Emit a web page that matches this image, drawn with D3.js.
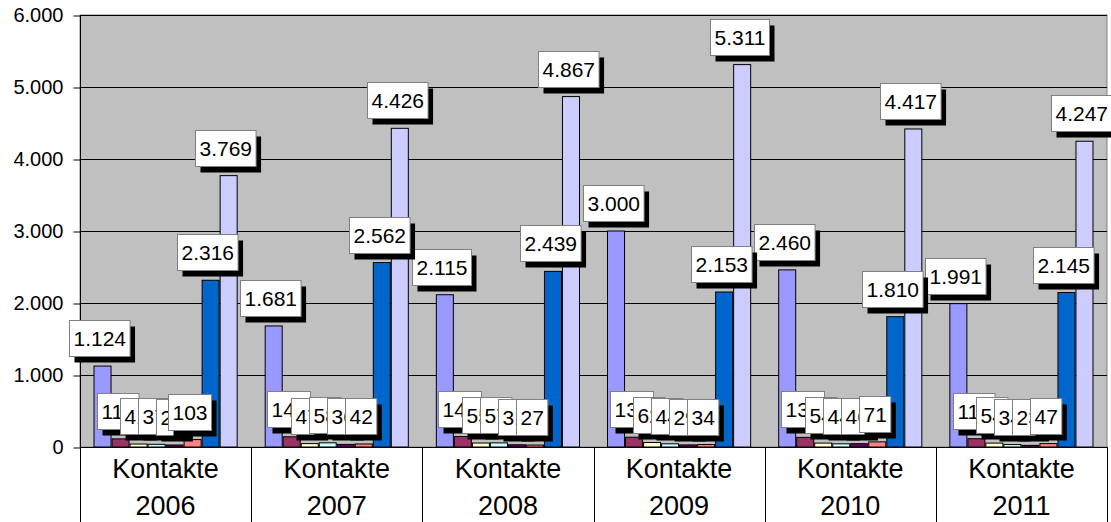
<!DOCTYPE html>
<html>
<head>
<meta charset="utf-8">
<script src="https://cdn.jsdelivr.net/npm/d3@7"></script>
<style>
  html, body { margin: 0; padding: 0; background: #fff; }
  svg, svg text { font-family: "Liberation Sans", Arial, sans-serif; }
  svg { display: block; }
</style>
</head>
<body>
<svg id="chart" width="1111" height="522"></svg>
<script>
// Yearly contact counts, one series per contact type
const years = ["2006", "2007", "2008", "2009", "2010", "2011"];
const categoryLabels = years.map(y => ["Kontakte", y]);

const seriesA = [1124, 1681, 2115, 3000, 2460, 1991];
const seriesB = [113, 142, 145, 136, 134, 115];
const seriesC = [41, 47, 55, 62, 54, 54];
const seriesD = [37, 58, 57, 44, 44, 34];
const seriesE = [28, 36, 31, 29, 46, 23];
const seriesF = [103, 42, 27, 34, 71, 47];
const seriesG = [2316, 2562, 2439, 2153, 1810, 2145];
const seriesH = [3769, 4426, 4867, 5311, 4417, 4247];

const yTicks = [0, 1000, 2000, 3000, 4000, 5000, 6000];

const seriesList = [seriesA, seriesB, seriesC, seriesD, seriesE, seriesF, seriesG, seriesH];
const colors = ["#9999FF", "#993366", "#FFFFCC", "#CCFFFF", "#660066", "#FF8080", "#0066CC", "#CCCCFF"];

const fmt = v => d3.format(",")(v).replace(/,/g, ".");
const FONT = "'Liberation Sans', Arial, sans-serif";

const svg = d3.select("#chart");
const plot = { left: 80, right: 1107, top: 15, bottom: 447 };

const x0 = d3.scaleBand().domain(years).range([plot.left, plot.right]).paddingInner(0).paddingOuter(0);
const x1 = d3.scaleBand().domain(d3.range(seriesList.length))
  .range([0, x0.bandwidth()]).paddingInner(0).paddingOuter(0.75);
const y = d3.scaleLinear().domain([0, 6000]).range([plot.bottom, plot.top]);

// plot background
svg.append("rect")
  .attr("x", plot.left).attr("y", plot.top)
  .attr("width", plot.right - plot.left).attr("height", plot.bottom - plot.top)
  .attr("fill", "#C0C0C0").attr("stroke", "#808080").attr("stroke-width", 1);

// gridlines
svg.append("g").selectAll("line").data(yTicks.filter(d => d > 0)).join("line")
  .attr("x1", plot.left).attr("x2", plot.right)
  .attr("y1", d => Math.round(y(d)) + 0.5).attr("y2", d => Math.round(y(d)) + 0.5)
  .attr("stroke", "#000").attr("stroke-width", 1);

// value axis
const yAxis = svg.append("g")
  .attr("transform", `translate(${plot.left + 0.5},0.5)`)
  .call(d3.axisLeft(y).tickValues(yTicks).tickFormat(fmt).tickSize(7).tickPadding(10));
yAxis.attr("font-family", FONT);
yAxis.select(".domain").remove();
yAxis.selectAll("line").attr("stroke", "#000");
yAxis.selectAll("text").attr("font-size", 20).attr("fill", "#000")
  .attr("font-family", FONT);

// bars
const groups = svg.append("g").selectAll("g").data(years).join("g")
  .attr("transform", d => `translate(${x0(d)},0)`);

groups.each(function (yr, gi) {
  const g = d3.select(this);
  seriesList.forEach((s, si) => {
    const v = s[gi];
    g.append("rect")
      .attr("x", x1(si) + 0.5)
      .attr("y", y(v))
      .attr("width", x1.bandwidth() - 1)
      .attr("height", y(0) - y(v))
      .attr("fill", colors[si])
      .attr("stroke", "#000").attr("stroke-width", 1);
  });
});

// category axis line and dividers
svg.append("line")
  .attr("x1", plot.left).attr("x2", plot.right)
  .attr("y1", plot.bottom + 0.5).attr("y2", plot.bottom + 0.5)
  .attr("stroke", "#000");
svg.append("line")
  .attr("x1", plot.left + 0.5).attr("x2", plot.left + 0.5)
  .attr("y1", plot.top).attr("y2", 522)
  .attr("stroke", "#000");
svg.append("g").selectAll("line").data(years).join("line")
  .attr("x1", d => Math.round(x0(d) + x0.bandwidth()) + 0.5)
  .attr("x2", d => Math.round(x0(d) + x0.bandwidth()) + 0.5)
  .attr("y1", plot.bottom).attr("y2", 522)
  .attr("stroke", "#000");

// category labels
const cat = svg.append("g").selectAll("text").data(years).join("text")
  .attr("x", d => x0(d) + x0.bandwidth() / 2)
  .attr("text-anchor", "middle")
  .attr("font-family", FONT)
  .attr("font-size", 27)
  .attr("fill", "#000");
cat.append("tspan").attr("x", d => x0(d) + x0.bandwidth() / 2).attr("y", 478).text((d, i) => categoryLabels[i][0]);
cat.append("tspan").attr("x", d => x0(d) + x0.bandwidth() / 2).attr("y", 515).text((d, i) => categoryLabels[i][1]);

// data labels: white boxes with a drop shadow
const labels = svg.append("g");
seriesList.forEach((s, si) => {
  years.forEach((yr, gi) => {
    const v = s[gi];
    const cx = x0(yr) + x1(si) + x1.bandwidth() / 2;
    const g = labels.append("g");
    const t = g.append("text")
      .attr("font-family", FONT)
      .attr("font-size", 21)
      .attr("text-anchor", "middle")
      .attr("fill", "#000")
      .text(fmt(v));
    const w = t.node().getComputedTextLength() + 8;
    const h = 36;
    const bottom = y(v) - 10;
    const bx = Math.round(cx - w / 2 - 3) + 0.5;
    const by = Math.round(bottom - h) + 0.5;
    g.insert("rect", "text")
      .attr("x", bx + 5).attr("y", by + 6)
      .attr("width", w).attr("height", h)
      .attr("fill", "#000");
    g.insert("rect", "text")
      .attr("x", bx).attr("y", by)
      .attr("width", w).attr("height", h)
      .attr("fill", "#fff").attr("stroke", "#808080").attr("stroke-width", 1);
    t.attr("x", bx + w / 2).attr("y", by + h / 2 + 7.5);
  });
});
</script>
</body>
</html>
